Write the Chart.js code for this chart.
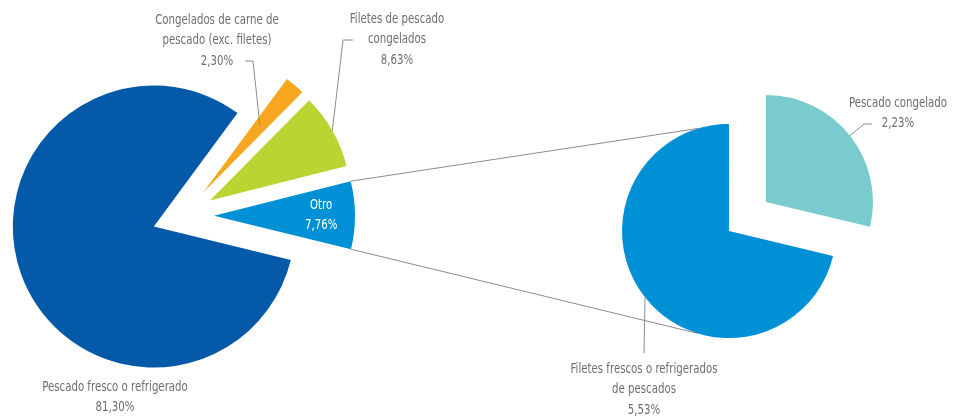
<!DOCTYPE html>
<html>
<head>
<meta charset="utf-8">
<script src="https://cdn.jsdelivr.net/npm/chart.js@4.4.1/dist/chart.umd.min.js"></script>
<style>
  html, body { margin: 0; padding: 0; background: #fff; }
  #wrap { position: relative; width: 957px; height: 419px; }
  .layer { position: absolute; left: 0; top: 0; width: 957px; height: 419px; }
</style>
</head>
<body>
<div id="wrap">
  <div class="layer"><canvas id="mainPie"></canvas></div>
  <div class="layer"><canvas id="subPie"></canvas></div>
</div>
<script>
// main pie
const mainCategories = [
  ['Pescado fresco o refrigerado'],
  ['Congelados de carne de', 'pescado (exc. filetes)'],
  ['Filetes de pescado', 'congelados'],
  ['Otro']
];
const mainValues = [81.30, 2.30, 8.63, 7.76];

// second pie (breakdown of "Otro")
const subCategories = [
  ['Pescado congelado'],
  ['Filetes frescos o refrigerados', 'de pescados']
];
const subValues = [2.23, 5.53];

const mainColors = ['#0459A8', '#F7A71F', '#BAD531', '#0090D6'];
const subColors = ['#7ACBCE', '#0090D6'];

const FONT = '"DejaVu Sans Condensed", "Liberation Sans", sans-serif';
const FONT_SIZE = 13.5;
const TEXT_SX = 0.84; // squeeze to look like the narrow original face
const LINE_H = 20.5;
const TEXT = '#6D6E71';
const LINE = '#8C8C8C';
const EXPLODE = 0.22; // every slice pulled out by 22% of the radius

const pct = v => v.toFixed(2).replace('.', ',') + '%';

// push each slice out along its middle angle
const explode = {
  id: 'explode',
  afterDatasetUpdate(chart, args) {
    args.meta.data.forEach(arc => {
      const mid = (arc.startAngle + arc.endAngle) / 2;
      const d = arc.outerRadius * EXPLODE;
      arc.x += Math.cos(mid) * d;
      arc.y += Math.sin(mid) * d;
    });
  }
};

function arcPoint(arc, angleFrac, radiusFrac) {
  const a = arc.startAngle + (arc.endAngle - arc.startAngle) * angleFrac;
  const r = arc.outerRadius * radiusFrac;
  return [arc.x + Math.cos(a) * r, arc.y + Math.sin(a) * r];
}

function drawLines(ctx, lines, x, y, color) {
  ctx.save();
  ctx.font = FONT_SIZE + 'px ' + FONT;
  ctx.fillStyle = color;
  ctx.textAlign = 'center';
  ctx.textBaseline = 'middle';
  ctx.translate(x, y);
  ctx.scale(TEXT_SX, 1);
  lines.forEach((t, k) => ctx.fillText(t, 0, k * LINE_H));
  ctx.restore();
}

function drawLeader(ctx, pts) {
  ctx.save();
  ctx.strokeStyle = LINE;
  ctx.lineWidth = 1;
  ctx.beginPath();
  pts.forEach((p, k) => k ? ctx.lineTo(p[0], p[1]) : ctx.moveTo(p[0], p[1]));
  ctx.stroke();
  ctx.restore();
}

// where the text sits and where leaders bend
const mainLabelLayout = [
  { x: 115, y: 387 },
  { x: 217, y: 20, leader: [[245, 61], [253, 61]], at: [0.5, 0.62] },
  { x: 397, y: 19, leader: [[353, 40], [343, 40]], at: [0.5, 1] },
  { inside: 0.76, color: '#fff' }
];
const subLabelLayout = [
  { x: 898, y: 103, leader: [[872, 124], [864, 124]], at: [0.5, 1] },
  { x: 644, y: 369, leader: [[644, 353]], at: [0.5, 1] }
];

function labelPlugin(id, categories, values, layout) {
  return {
    id: id,
    afterDraw(chart) {
      const ctx = chart.ctx;
      const arcs = chart.getDatasetMeta(0).data;
      layout.forEach((l, i) => {
        const lines = categories[i].concat([pct(values[i])]);
        if (l.inside) {
          const p = arcPoint(arcs[i], 0.5, l.inside);
          drawLines(ctx, lines, p[0], p[1] - (lines.length - 1) * LINE_H / 2, l.color);
          return;
        }
        if (l.leader) {
          drawLeader(ctx, l.leader.concat([arcPoint(arcs[i], l.at[0], l.at[1])]));
        }
        drawLines(ctx, lines, l.x, l.y, TEXT);
      });
    }
  };
}

function pieConfig(labels, values, colors, rotation, padding, plugins) {
  return {
    type: 'pie',
    data: {
      labels: labels.map(l => l.join(' ')),
      datasets: [{
        data: values,
        backgroundColor: colors,
        borderWidth: 0,
        hoverOffset: 0
      }]
    },
    options: {
      responsive: true,
      maintainAspectRatio: false,
      animation: false,
      events: [],
      rotation: rotation,
      layout: { padding: padding },
      plugins: { legend: { display: false }, tooltip: { enabled: false } }
    },
    plugins: plugins
  };
}

const mainChart = new Chart(document.getElementById('mainPie'),
  pieConfig(mainCategories, mainValues, mainColors, 103.7,
    { left: 42, top: 75, right: 633, bottom: 62 },
    [explode, labelPlugin('mainLabels', mainCategories, mainValues, mainLabelLayout)]));

// grey lines joining "Otro" to the second pie
const connectors = {
  id: 'connectors',
  afterDraw(chart) {
    const otro = mainChart.getDatasetMeta(0).data[3];
    const big = chart.getDatasetMeta(0).data[1];
    const toRight = deg => {
      const a = deg * Math.PI / 180;
      return [big.x + Math.cos(a) * big.outerRadius, big.y + Math.sin(a) * big.outerRadius];
    };
    drawLeader(chart.ctx, [arcPoint(otro, 0, 1), toRight(-106)]);
    drawLeader(chart.ctx, [arcPoint(otro, 1, 1), toRight(107)]);
  }
};

new Chart(document.getElementById('subPie'),
  pieConfig(subCategories, subValues, subColors, 0,
    { left: 640.5, top: 109.5, right: 102.5, bottom: 95.5 },
    [explode, connectors, labelPlugin('subLabels', subCategories, subValues, subLabelLayout)]));
</script>
</body>
</html>
